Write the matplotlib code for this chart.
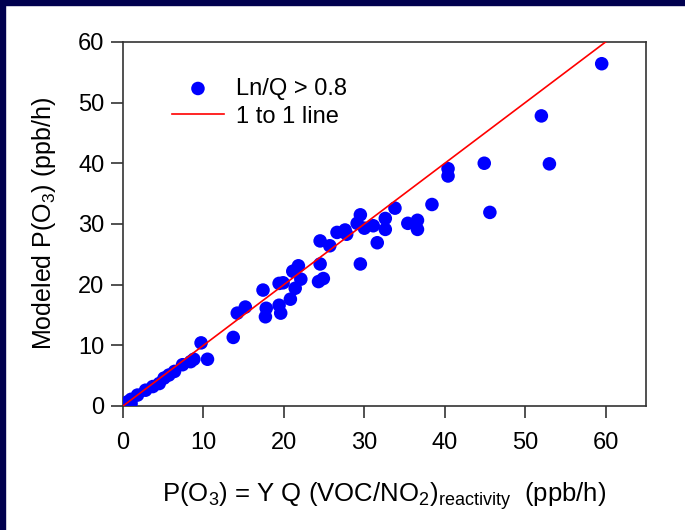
import matplotlib
matplotlib.use('Agg')
import matplotlib.pyplot as plt
from matplotlib.patches import Rectangle

plt.rcParams['font.family'] = ['Liberation Sans', 'DejaVu Sans']
plt.rcParams['mathtext.default'] = 'regular'

# Points (x: YQ(VOC/NO2) estimate, y: modeled P(O3))
x_est = [59.5, 52.0, 53.0, 44.9, 45.6, 40.4, 40.4, 38.4, 33.8, 36.6,
         35.4, 36.6, 32.6, 32.6, 31.6, 29.5, 30.0, 31.1, 29.1, 26.6,
         27.6, 27.8, 24.5, 25.7, 29.5, 24.5, 24.3, 24.9, 21.8, 21.1,
         22.1, 21.4, 20.8, 19.4, 19.9, 17.4, 17.8, 17.7, 19.4, 19.6,
         15.2, 14.2, 13.7, 9.7, 10.5, 8.8, 8.4, 7.4, 6.4, 5.7,
         5.1, 4.5, 3.7, 2.8, 1.8, 1.0, 1.0, 0.6]
y_mod = [56.4, 47.8, 39.9, 40.0, 31.9, 39.1, 37.9, 33.2, 32.6, 30.6,
         30.1, 29.1, 30.9, 29.1, 26.9, 31.5, 29.3, 29.7, 30.1, 28.6,
         29.0, 28.3, 27.2, 26.4, 23.4, 23.4, 20.5, 21.0, 23.1, 22.2,
         20.9, 19.4, 17.6, 20.2, 20.3, 19.1, 16.1, 14.7, 16.6, 15.3,
         16.3, 15.3, 11.3, 10.4, 7.7, 7.7, 7.3, 6.8, 5.7, 5.1,
         4.6, 3.7, 3.2, 2.6, 1.8, 1.1, 0.4, 0.7]
line_x = [0, 60]
line_y = [0, 60]

fig = plt.figure(figsize=(6.85, 5.3), dpi=100)
ax = fig.add_axes([0.1796, 0.234, 0.7634, 0.687])

# dark border strips at left and top
fig.patches.append(Rectangle((0, 0), 5 / 685, 1, transform=fig.transFigure,
                             color='#00004f', zorder=0))
fig.patches.append(Rectangle((0, 1 - 5 / 530), 1, 5 / 530, transform=fig.transFigure,
                             color='#00004f', zorder=0))

ax.scatter(x_est, y_mod, s=95, color='#0000ff', edgecolors='none',
           label='Ln/Q > 0.8', zorder=3)
ax.plot(line_x, line_y, color='#ff0000', lw=1.2, label='1 to 1 line', zorder=4)

ax.set_xlim(0, 65)
ax.set_ylim(0, 60)
ax.set_xticks(range(0, 61, 10))
ax.set_yticks(range(0, 61, 10))
ax.tick_params(direction='out', length=8.5, width=1.1, labelsize=17,
               color='#222222')
ax.tick_params(axis='x', pad=10)
ax.tick_params(axis='y', pad=5)
for sp in ax.spines.values():
    sp.set_linewidth(1.2)
    sp.set_color('#333333')

ax.set_xlabel('P(O$_3$) = Y Q (VOC/NO$_2$)$_{reactivity}$  (ppb/h)',
              fontsize=18.5, labelpad=19)
ax.set_ylabel('Modeled P(O$_3$) (ppb/h)', fontsize=18, labelpad=14)

ax.legend(loc='upper left', bbox_to_anchor=(0.053, 0.96), frameon=False,
          fontsize=17, handlelength=2.2, handletextpad=0.5,
          labelspacing=0.25, scatterpoints=1)

fig.savefig('out.png', dpi=100)
